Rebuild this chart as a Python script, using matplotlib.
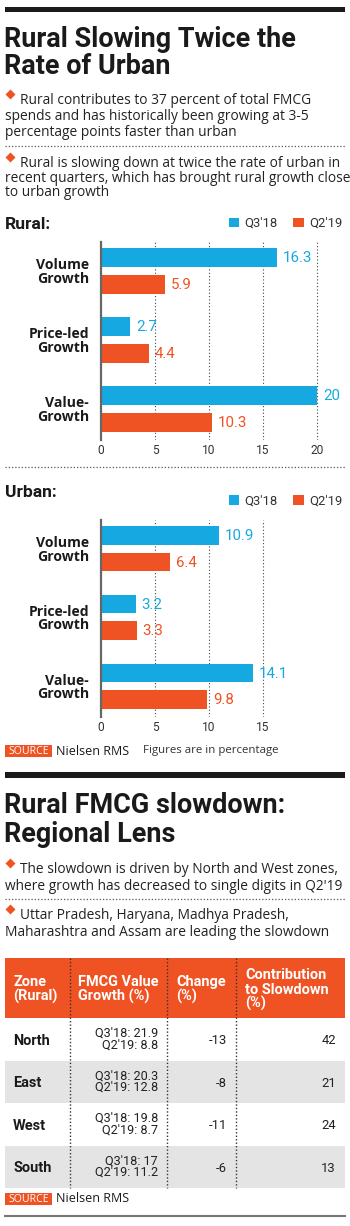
import matplotlib
matplotlib.use("Agg")
import matplotlib.pyplot as plt
from matplotlib.patches import Rectangle
from matplotlib.lines import Line2D

# ---------------- data ----------------
categories = ["Volume\nGrowth", "Price-led\nGrowth", "Value-\nGrowth"]
series_names = ["Q3'18", "Q2'19"]
rural_q3_18 = [16.3, 2.7, 20]
rural_q2_19 = [5.9, 4.4, 10.3]
urban_q3_18 = [10.9, 3.2, 14.1]
urban_q2_19 = [6.4, 3.3, 9.8]
rural_ticks = [0, 5, 10, 15, 20]
urban_ticks = [0, 5, 10, 15]

zones = ["North", "East", "West", "South"]
growth_q3_18 = ["21.9", "20.3", "19.8", "17"]
growth_q2_19 = ["8.8", "12.8", "8.7", "11.2"]
change_pct = ["-13", "-8", "-11", "-6"]
contribution_pct = ["42", "21", "24", "13"]
table_headers = [["Zone", "(Rural)"], ["FMCG Value", "Growth (%)"], ["Change", "(%)"],
                 ["Contribution", "to Slowdown", "(%)"]]

title1 = ["Rural Slowing Twice the", "Rate of Urban"]
bullet1a = ["Rural contributes to 37 percent of total FMCG",
            "spends and has historically been growing at 3-5",
            "percentage points faster than urban"]
bullet1b = ["Rural is slowing down at twice the rate of urban in",
            "recent quarters, which has brought rural growth close",
            "to urban growth"]
title2 = ["Rural FMCG slowdown:", "Regional Lens"]
bullet2a = ["The slowdown is driven by North and West zones,",
            "where growth has decreased to single digits in Q2'19"]
bullet2b = ["Uttar Pradesh, Haryana, Madhya Pradesh,",
            "Maharashtra and Assam are leading the slowdown"]

BLUE = "#16a9e1"
ORANGE = "#ef5323"
DARK = "#1a1a1a"
GREY_ROW = "#e4e4e4"
BODY = ["Open Sans", "DejaVu Sans"]
HEAD = ["Roboto", "DejaVu Sans"]

W, H = 350, 1226
plt.rcParams["font.family"] = HEAD

fig = plt.figure(figsize=(W / 100, H / 100), dpi=100)
fig.patch.set_facecolor("white")

ov = fig.add_axes([0, 0, 1, 1])
ov.set_xlim(0, W)
ov.set_ylim(H, 0)
ov.axis("off")
ov.set_zorder(0)

def pt(px):
    return px * 0.72

def hline(y, lw, color):
    ov.add_line(Line2D([5, 345], [y, y], lw=lw, color=color))

def dotted(y):
    ov.add_line(Line2D([5, 345], [y, y], lw=0.9, color="#555555", ls=(0, (1, 1.6))))

def title(baselines, lines):
    for y, t in zip(baselines, lines):
        ov.text(4, y, t, fontsize=pt(27), fontweight="bold", color=DARK, ha="left",
                va="baseline")

def bullet(baselines, lines):
    ov.plot(10, baselines[0] - 10.5, marker="D", ms=4.6, color=ORANGE, mec="none")
    for i, (y, t) in enumerate(zip(baselines, lines)):
        ov.text(19.5 if i == 0 else 5, y, t, fontsize=pt(13.8), color="#222222", ha="left",
                va="baseline", family=BODY)

def source(y, extra=None):
    ov.add_patch(Rectangle((5, y - 6), 47, 12, color=ORANGE, lw=0))
    ov.text(28.5, y + 0.5, "SOURCE", fontsize=pt(10.5), color="white", ha="center", va="center",
            family=BODY)
    ov.text(56, y + 0.5, "Nielsen RMS", fontsize=pt(12.5), color=DARK, ha="left", va="center",
            family=BODY)
    if extra:
        ov.text(143, y, extra, fontsize=pt(11.5), color="#333333", ha="left", va="center",
                family=BODY)

# top bar and first title
ov.add_patch(Rectangle((5, 7), 340, 5, color=DARK, lw=0))
title([47, 74], title1)
bullet([104, 120, 135.5], bullet1a)
dotted(146)
bullet([167, 181.5, 196], bullet1b)

ov.text(5, 229, "Rural:", fontsize=pt(17.5), fontweight="bold", color=DARK, ha="left", va="baseline")
dotted(467)
ov.text(5, 497, "Urban:", fontsize=pt(17.5), fontweight="bold", color=DARK, ha="left", va="baseline")

def bar_chart(top, bottom, q3, q2, ticks, xmax, legend_y):
    ax = fig.add_axes([101 / W, 1 - bottom / H, (xmax * 10.8) / W, (bottom - top) / H])
    ax.set_zorder(2)
    ax.patch.set_alpha(0)
    pos = range(len(categories))
    off = 0.193
    h = 0.27
    b1 = ax.barh([p - off for p in pos], q3, height=h, color=BLUE, label=series_names[0], zorder=3)
    b2 = ax.barh([p + off for p in pos], q2, height=h, color=ORANGE, label=series_names[1], zorder=3)
    for bars, vals, col in ((b1, q3, BLUE), (b2, q2, ORANGE)):
        for rect, v in zip(bars, vals):
            ax.text(v + 0.55, rect.get_y() + rect.get_height() / 2 + 0.01, f"{v:g}", color=col,
                    fontsize=pt(15), va="center", ha="left", clip_on=False)
    ax.set_xlim(0, xmax)
    ax.set_ylim(2.45, -0.42)
    ax.set_xticks(ticks)
    ax.set_xticklabels([str(t) for t in ticks], fontsize=pt(12), color="#333333")
    ax.set_yticks(list(pos))
    ax.set_yticklabels(categories, fontsize=pt(14), fontweight="bold", color=DARK,
                       linespacing=0.95, family=BODY)
    ax.tick_params(axis="both", length=0)
    ax.tick_params(axis="y", pad=pt(12))
    ax.tick_params(axis="x", pad=pt(4))
    for s in ["top", "right", "bottom"]:
        ax.spines[s].set_visible(False)
    ax.spines["left"].set_color("#666666")
    ax.spines["left"].set_linewidth(1.6)
    ax.spines["left"].set_zorder(4)
    for t in ticks[1:]:
        ax.axvline(t, color="#444444", lw=0.8, ls=(0, (1, 2)), zorder=1)
    leg = ax.legend(handles=[b1, b2], loc="center left", ncol=2, frameon=False,
                    bbox_to_anchor=(229 / W, 1 - legend_y / H), bbox_transform=fig.transFigure,
                    handlelength=0.8, handleheight=0.8, handletextpad=0.4, columnspacing=1.2,
                    borderpad=0, borderaxespad=0, fontsize=pt(13))
    for txt in leg.get_texts():
        txt.set_color("#333333")
    return ax

bar_chart(242, 440, rural_q3_18, rural_q2_19, rural_ticks, 21.3, 223.5)
bar_chart(520, 717, urban_q3_18, urban_q2_19, urban_ticks, 17.0, 501)

source(751, "Figures are in percentage")
ov.add_patch(Rectangle((5, 772), 340, 6, color=DARK, lw=0))

# second section
title([813, 842], title2)
bullet([873, 890], bullet2a)
dotted(899)
bullet([919, 936.5], bullet2b)

# table
tx0, tx1 = 5, 345
head_top, head_bot = 958, 1018
row_h = 42.5
col_lines = [70, 167, 236]
ov.add_patch(Rectangle((tx0, head_top), tx1 - tx0, head_bot - head_top, color=ORANGE, lw=0))
for i in range(len(zones)):
    y0 = head_bot + i * row_h
    if i % 2 == 1:
        ov.add_patch(Rectangle((tx0, y0), tx1 - tx0, row_h, color=GREY_ROW, lw=0))
table_bottom = head_bot + len(zones) * row_h
for x in col_lines:
    ov.add_line(Line2D([x, x], [head_top, table_bottom], lw=1.0, color="#333333", ls=(0, (1, 1.5))))
head_x = [13, 78, 176, 245]
for x, lines in zip(head_x, table_headers):
    n = len(lines)
    first = 993.5 - (n - 1) * 14.5 / 2
    for j, t in enumerate(lines):
        ov.text(x, first + j * 14.5, t, fontsize=pt(14.5), fontweight="bold", color="white",
                ha="left", va="baseline")
for i, z in enumerate(zones):
    yc = head_bot + i * row_h + row_h / 2
    ov.text(13, yc + 5.5, z, fontsize=pt(14.5), fontweight="bold", color=DARK, ha="left", va="baseline")
    ov.text(158, yc, f"Q3'18: {growth_q3_18[i]}\nQ2'19: {growth_q2_19[i]}", fontsize=pt(12.6),
            color="#222222", ha="right", va="center", linespacing=0.84)
    ov.text(227, yc + 5, change_pct[i], fontsize=pt(13), color="#222222", ha="right", va="baseline")
    ov.text(336, yc + 5, contribution_pct[i], fontsize=pt(13), color="#222222", ha="right", va="baseline")

source(1198.5)
hline(1216, 1.5, "#777777")

fig.savefig("out.png", dpi=100, facecolor="white")
